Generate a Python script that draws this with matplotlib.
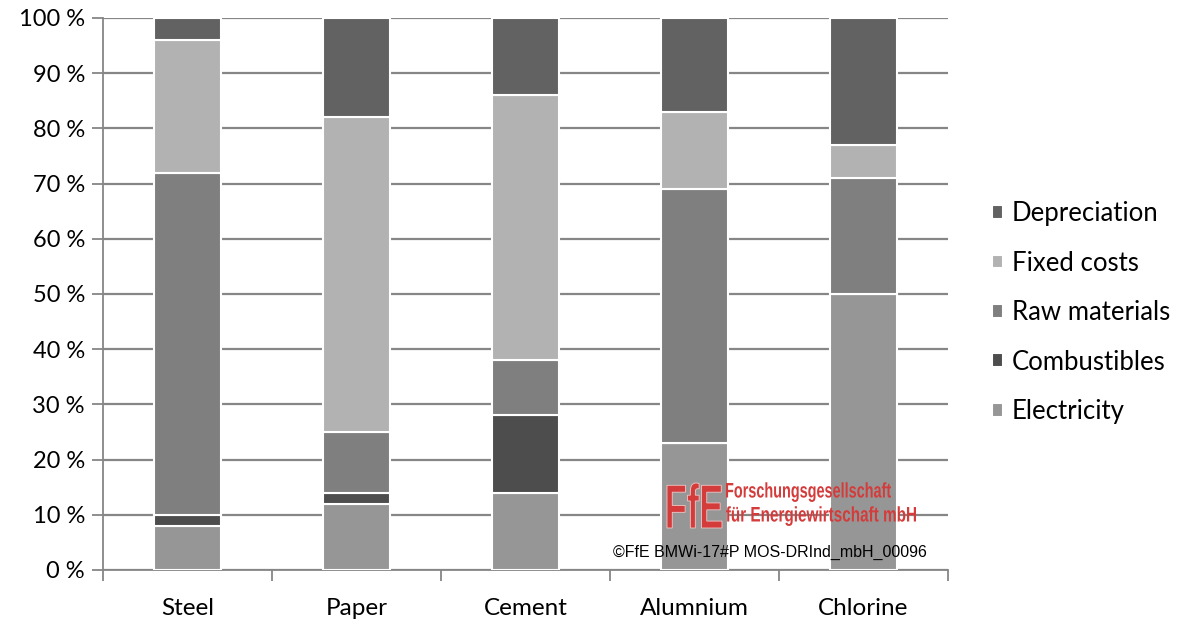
import matplotlib
matplotlib.use("Agg")
import matplotlib.pyplot as plt
import numpy as np
from matplotlib.textpath import TextPath
from matplotlib.patches import PathPatch
from matplotlib.font_manager import FontProperties
from matplotlib.transforms import Affine2D, IdentityTransform

categories = ["Steel", "Paper", "Cement", "Alumnium", "Chlorine"]
electricity = [8, 12, 14, 23, 50]
combustibles = [2, 2, 14, 0, 0]
raw_materials = [62, 11, 10, 46, 21]
fixed_costs = [24, 57, 48, 14, 6]
depreciation = [4, 18, 14, 17, 23]

series = [
    ("Electricity", electricity, "#969696"),
    ("Combustibles", combustibles, "#4d4d4d"),
    ("Raw materials", raw_materials, "#7f7f7f"),
    ("Fixed costs", fixed_costs, "#b2b2b2"),
    ("Depreciation", depreciation, "#626262"),
]

plt.rcParams["font.family"] = ["Lato", "DejaVu Sans"]

fig = plt.figure(figsize=(11.81, 6.19), dpi=100)
ax = fig.add_axes([0.0872, 0.0792, 0.7155, 0.8918])

x = np.arange(len(categories))
bottom = np.zeros(len(categories))
handles = []
for name, vals, color in series:
    b = ax.bar(x, vals, width=0.4, bottom=bottom, color=color,
               edgecolor="white", linewidth=1.5, label=name, zorder=3)
    handles.append(b)
    bottom += np.array(vals)

ax.set_xlim(-0.5, 4.5)
ax.set_ylim(0, 100)
ax.set_yticks(np.arange(0, 101, 10))
ax.set_yticklabels(["%d %%" % v for v in range(0, 101, 10)], fontsize=17)
ax.yaxis.grid(True, color="#868686", linewidth=1.6, zorder=0)
ax.set_axisbelow(True)

# category labels in the middle, tick marks between the groups
ax.set_xticks(x)
ax.set_xticklabels(categories, fontsize=17.5)
ax.tick_params(axis="x", which="major", length=0, pad=20)
ax.set_xticks(np.arange(-0.5, 4.6, 1), minor=True)
ax.tick_params(axis="x", which="minor", length=8, width=1.3, color="#868686")
ax.tick_params(axis="y", length=8, width=1.3, color="#868686", pad=5)

for side in ["top", "right"]:
    ax.spines[side].set_visible(False)
for side in ["left", "bottom"]:
    ax.spines[side].set_color("#868686")
    ax.spines[side].set_linewidth(1.3)

leg = fig.legend(handles[::-1], [s[0] for s in series][::-1],
                 loc="center left", bbox_to_anchor=(0.82, 0.495),
                 frameon=False, fontsize=18.5, handlelength=0.45,
                 handleheight=0.45, handletextpad=0.35, labelspacing=0.95)

# FfE logo: squeezed bold letters fitted into a pixel box
red = "#d43c3b"
logo = TextPath((0, 0), "FfE", size=50,
                prop=FontProperties(family="Liberation Sans", weight="bold"))
ext = logo.get_extents()
x0, y0, w, h = 667, 619 - 528, 55, 45
tr = (Affine2D().translate(-ext.x0, -ext.y0)
      .scale(w / ext.width, h / ext.height).translate(x0, y0))
fig.add_artist(PathPatch(logo, transform=tr + IdentityTransform(),
                         facecolor=red, edgecolor="#f0c8c8", linewidth=0.6))

for txt, top in [("Forschungsgesellschaft", 483), ("für Energiewirtschaft mbH", 507)]:
    p = TextPath((0, 0), txt, size=20,
                 prop=FontProperties(family="Liberation Sans", weight="bold"))
    e = p.get_extents()
    cap = TextPath((0, 0), "F", size=20,
                   prop=FontProperties(family="Liberation Sans", weight="bold")).get_extents()
    sx = (165 if txt.startswith("F") else 190) / e.width
    sy = 14.5 / cap.height
    t = Affine2D().translate(-e.x0, 0).scale(sx, sy).translate(726, 619 - top - 14.5)
    fig.add_artist(PathPatch(p, transform=t + IdentityTransform(),
                             facecolor=red, edgecolor="none"))

fig.text(0.519, 0.107, "©FfE BMWi-17#P MOS-DRInd_mbH_00096", fontsize=11.5,
         family="Liberation Sans", va="center")

fig.savefig("out.png", dpi=100)
